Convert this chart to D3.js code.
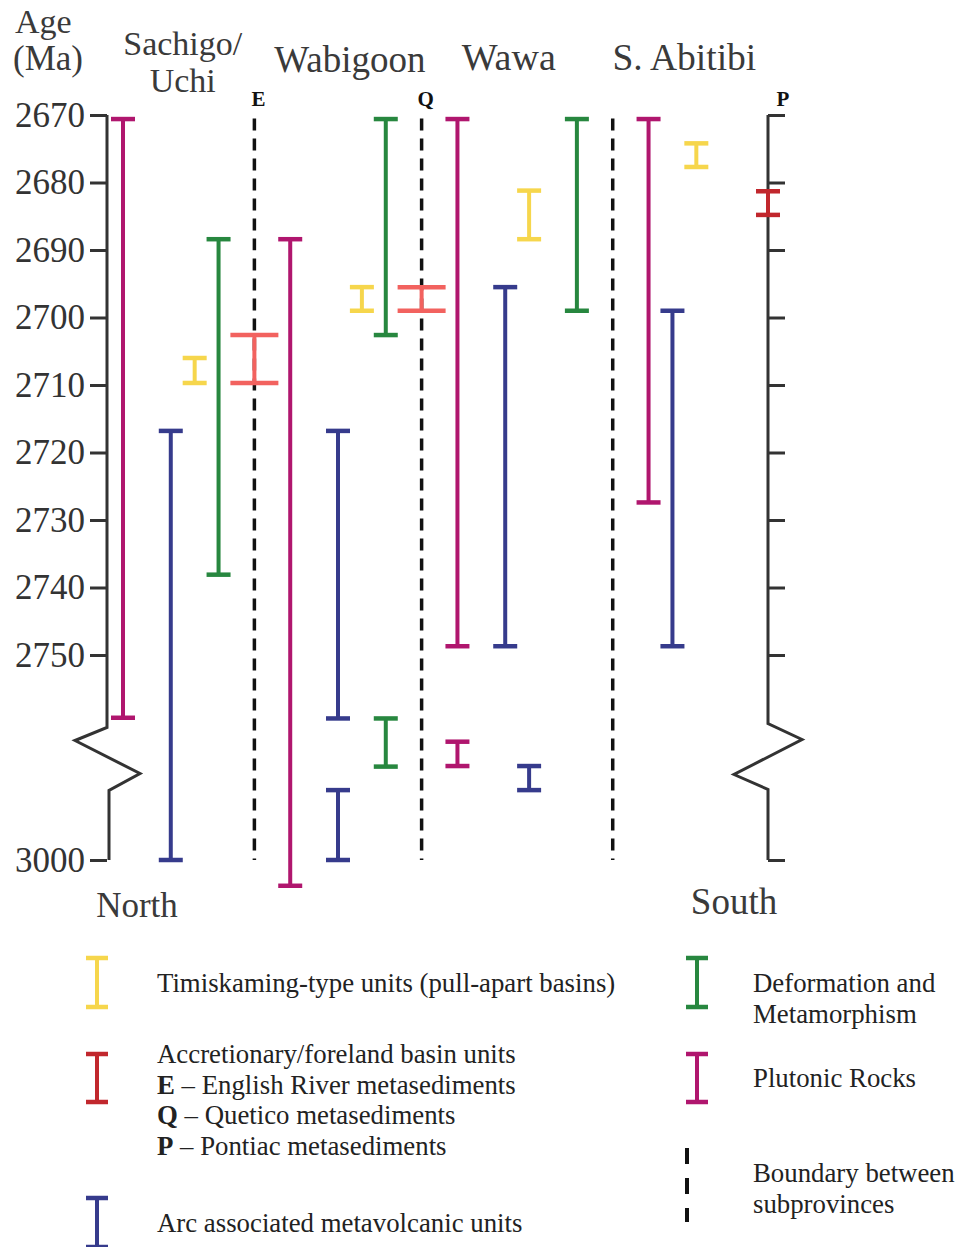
<!DOCTYPE html>
<html>
<head>
<meta charset="utf-8">
<script src="https://cdn.jsdelivr.net/npm/d3@7"></script>
<style>
  body { margin: 0; background: #fff; }
  svg { display: block; font-family: "Liberation Serif", "Times New Roman", serif; }
</style>
</head>
<body>
<div id="chart"></div>
<script>
// subprovince columns (header lines)
const provinces = [["Sachigo/", "Uchi"], ["Wabigoon"], ["Wawa"], ["S. Abitibi"]];

// age ticks (Ma)
const ageTicks = [2670, 2680, 2690, 2700, 2710, 2720, 2730, 2740, 2750, 3000];

// age ranges per unit type: [track, from Ma, to Ma]
const timiskaming = [[6, 2706, 2709.7], [20, 2695.5, 2699], [34, 2681.2, 2688.4], [48, 2674.2, 2677.7]];
const accretionary = [[11, 2702.6, 2709.7, "E"], [25, 2695.5, 2699, "Q"], [54, 2681.3, 2684.8, "P"]];
const arc = [[4, 2716.8, 3000], [18, 2716.8, 2759.4], [18, 2878, 3000], [32, 2695.5, 2748.7], [34, 2836, 2878], [46, 2699, 2748.7]];
const deformation = [[8, 2688.4, 2738.1], [22, 2670.6, 2702.6], [22, 2759.4, 2837], [38, 2670.6, 2699]];
const plutonic = [[0, 2670.6, 2759.3], [14, 2688.4, 3045], [28, 2670.6, 2748.7], [28, 2793.5, 2836], [44, 2670.6, 2727.4]];

// subprovince boundaries (tracks)
const boundaries = [11, 25, 41];

// legend
const legendLeft = [
  ["timiskaming", ["Timiskaming-type units (pull-apart basins)"]],
  ["accretionary", ["Accretionary/foreland basin units", "E|English River metasediments", "Q|Quetico metasediments", "P|Pontiac metasediments"]],
  ["arc", ["Arc associated metavolcanic units"]]
];
const legendRight = [
  ["deformation", ["Deformation and", "Metamorphism"]],
  ["plutonic", ["Plutonic Rocks"]],
  ["boundary", ["Boundary between", "subprovinces"]]
];

const colors = {
  timiskaming: "#f6d64c",
  accretionary: "#c1272d",
  arc: "#363b8c",
  deformation: "#27873f",
  plutonic: "#b0166e"
};
const lightRed = "#f2625f";

const W = 956, H = 1247;
const svg = d3.select("#chart").append("svg").attr("width", W).attr("height", H);

const x = d3.scaleLinear().domain([0, 54]).range([123, 768]);
const y = d3.scaleLinear().domain([2670, 2760, 3000]).range([115, 722.5, 860]);
const axL = 107, axR = x(54);
const ink = "#333";

// boundaries
svg.append("g").selectAll("line").data(boundaries).join("line")
  .attr("x1", d => x(d)).attr("x2", d => x(d))
  .attr("y1", y(2670.5)).attr("y2", y(3000))
  .attr("stroke", "#111").attr("stroke-width", 3.5).attr("stroke-dasharray", "12,8");

// left axis
const left = svg.append("g").attr("transform", `translate(${axL},0)`)
  .call(d3.axisLeft(y).tickValues(ageTicks).tickSize(17).tickPadding(5).tickFormat(d3.format("d")));
left.select(".domain").remove();
left.selectAll(".tick line").attr("stroke", ink).attr("stroke-width", 3);
left.selectAll(".tick text").attr("fill", ink).attr("font-size", 35)
  .attr("font-family", "Liberation Serif, serif");

const yb = y(2760);
svg.append("path")
  .attr("d", `M${axL},${y(2670)}V${yb + 5}L${axL - 32},${yb + 18}L${axL + 33},${yb + 51}L${axL + 2},${yb + 68}V${y(3000)}`)
  .attr("fill", "none").attr("stroke", ink).attr("stroke-width", 3).attr("stroke-linejoin", "miter");

// right axis
const right = svg.append("g").attr("transform", `translate(${axR},0)`)
  .call(d3.axisRight(y).tickValues(ageTicks).tickSize(17).tickFormat(""));
right.select(".domain").remove();
right.selectAll(".tick line").attr("stroke", ink).attr("stroke-width", 3);
svg.append("path")
  .attr("d", `M${axR},${y(2670)}V${yb + 1}L${axR + 34},${yb + 17}L${axR - 34},${yb + 52}L${axR},${yb + 67}V${y(3000)}`)
  .attr("fill", "none").attr("stroke", ink).attr("stroke-width", 3);

// range bars
function drawRanges(rows, key) {
  const g = svg.append("g");
  rows.forEach(r => {
    const [t, a, b, tag] = r;
    const wide = tag === "E" || tag === "Q";
    const c = wide ? lightRed : colors[key];
    const half = wide ? 24 : 12;
    const cx = x(t);
    g.append("line").attr("x1", cx).attr("x2", cx).attr("y1", y(a)).attr("y2", y(b))
      .attr("stroke", c).attr("stroke-width", 4);
    [a, b].forEach(v => g.append("line")
      .attr("x1", cx - half).attr("x2", cx + half).attr("y1", y(v)).attr("y2", y(v))
      .attr("stroke", c).attr("stroke-width", 4.5));
    if (tag) {
      g.append("text").attr("x", tag === "P" ? cx + 15 : cx + 4).attr("y", 106)
        .attr("text-anchor", "middle").attr("font-weight", "bold").attr("font-size", 21)
        .attr("fill", "#111").text(tag);
    }
  });
}
drawRanges(plutonic, "plutonic");
drawRanges(arc, "arc");
drawRanges(deformation, "deformation");
drawRanges(timiskaming, "timiskaming");
drawRanges(accretionary, "accretionary");

// headers
const head = svg.append("g").attr("fill", "#3a3a3a").attr("font-size", 33);
head.append("text").attr("x", 15).attr("y", 33).attr("font-size", 34).text("Age");
head.append("text").attr("x", 13).attr("y", 70).attr("font-size", 35).text("(Ma)");
const headTrack = [5, 19, 32.3, 47];
const headY = [55, 72, 70, 70];
const headSize = [34, 37, 38, 37.5];
provinces.forEach((lines, i) => {
  lines.forEach((s, j) => head.append("text").attr("x", x(headTrack[i])).attr("y", headY[i] + j * 37)
    .attr("text-anchor", "middle").attr("font-size", headSize[i]).text(s));
});
head.append("text").attr("x", 137).attr("y", 917).attr("text-anchor", "middle").attr("font-size", 35).text("North");
head.append("text").attr("x", 734).attr("y", 914).attr("text-anchor", "middle").attr("font-size", 37).text("South");

// legend
function legendCol(items, sx, tx, symY, textY) {
  const g = svg.append("g").attr("font-size", 26.8).attr("fill", "#222");
  items.forEach(([key, lines], i) => {
    const [y0, y1] = symY[i];
    if (key === "boundary") {
      g.append("line").attr("x1", sx - 10).attr("x2", sx - 10).attr("y1", y0).attr("y2", y1)
        .attr("stroke", "#111").attr("stroke-width", 4).attr("stroke-dasharray", "16,14");
    } else {
      const hw = 11;
      g.append("line").attr("x1", sx).attr("x2", sx).attr("y1", y0).attr("y2", y1)
        .attr("stroke", colors[key]).attr("stroke-width", 4);
      [y0, y1].forEach(v => g.append("line").attr("x1", sx - hw).attr("x2", sx + hw)
        .attr("y1", v).attr("y2", v).attr("stroke", colors[key]).attr("stroke-width", 4.5));
    }
    lines.forEach((s, j) => {
      const t = g.append("text").attr("x", tx).attr("y", textY[i] + j * 30.7);
      if (s.includes("|")) {
        const [b, rest] = s.split("|");
        t.append("tspan").attr("font-weight", "bold").text(b);
        t.append("tspan").text(" \u2013 " + rest);
      } else t.text(s);
    });
  });
}
legendCol(legendLeft, 97, 157, [[958, 1007], [1054, 1102], [1198, 1247]], [992, 1063, 1232]);
legendCol(legendRight, 697, 753, [[958, 1007], [1054, 1102], [1148, 1222]], [992, 1087, 1182]);
</script>
</body>
</html>
